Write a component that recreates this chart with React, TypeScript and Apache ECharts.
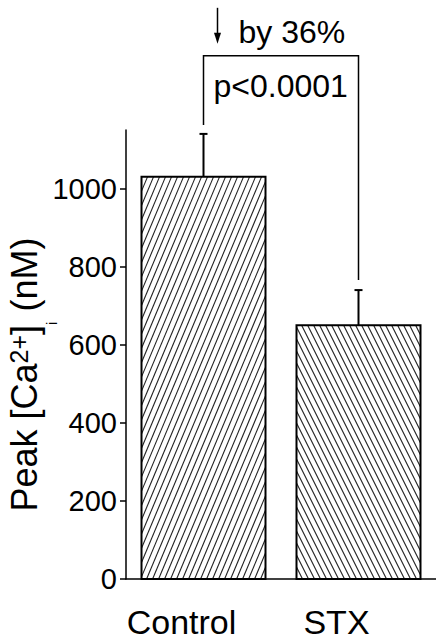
import React, { useEffect, useRef } from "react";
import * as echarts from "echarts";

const categories = ["Control", "STX"];
const peakValues = [1030, 650];
const errorValues = [110, 90];
const yTickValues = [0, 200, 400, 600, 800, 1000];
const yMax = 1150;
const bracketLevel = 1340;
const reductionLabel = "by 36%";
const pValueLabel = "p<0.0001";

const FONT = "'Liberation Sans', Arial, Helvetica, sans-serif";

export default function App() {
  const ref = useRef<HTMLDivElement>(null);

  useEffect(() => {
    if (!ref.current) return;
    const chart = echarts.init(ref.current, undefined, { renderer: "svg" });
    const seriesData = categories.map((c, i) => [i, peakValues[i], errorValues[i]]);

    const renderItem = (params: any, api: any) => {
      const idx = api.value(0);
      const val = api.value(1);
      const err = api.value(2);
      const [cx, yTop] = api.coord([idx, val]);
      const [, y0] = api.coord([idx, 0]);
      const [, yErr] = api.coord([idx, val + err]);
      const w = api.size([1, 0])[0] * 0.8;
      const x1 = cx - w / 2;
      const x2 = cx + w / 2;
      const h = y0 - yTop;
      const t = idx === 0 ? 0.42 : -0.5; // dx per unit up
      const step = 6;
      const lines: any[] = [];
      const cMin = Math.min(x1, x1 - t * h) - step;
      const cMax = Math.max(x2, x2 - t * h) + step;
      for (let c = cMin; c <= cMax; c += step) {
        let uA = 0, uB = h;
        let ua = (x1 - c) / t, ub = (x2 - c) / t;
        if (ua > ub) { const tmp = ua; ua = ub; ub = tmp; }
        uA = Math.max(uA, ua);
        uB = Math.min(uB, ub);
        if (uB - uA <= 0.5) continue;
        lines.push({
          type: "line",
          shape: { x1: c + t * uA, y1: y0 - uA, x2: c + t * uB, y2: y0 - uB },
          style: { stroke: "#222", lineWidth: 1.1 },
        });
      }
      return {
        type: "group",
        children: [
          { type: "rect", shape: { x: x1, y: yTop, width: w, height: h }, style: { fill: "#fff", stroke: "none" } },
          ...lines,
          { type: "rect", shape: { x: x1, y: yTop, width: w, height: h }, style: { fill: "none", stroke: "#000", lineWidth: 2 } },
          { type: "line", shape: { x1: cx, y1: yTop, x2: cx, y2: yErr }, style: { stroke: "#000", lineWidth: 2 } },
          { type: "line", shape: { x1: cx - 4, y1: yErr, x2: cx + 4, y2: yErr }, style: { stroke: "#000", lineWidth: 2 } },
        ],
      };
    };

    chart.setOption({
      animation: false,
      backgroundColor: "#fff",
      grid: { left: 126, right: 0, top: 130, bottom: 64, containLabel: false, outerBoundsMode: "none" },
      xAxis: {
        type: "category",
        data: categories,
        axisLine: { show: true, lineStyle: { color: "#000", width: 1.5 } },
        axisTick: { show: false },
        axisLabel: {
          color: "#000",
          fontSize: 34,
          fontFamily: FONT,
          margin: 26,
          padding: [0, 44, 0, 0],
        },
      },
      yAxis: {
        type: "value",
        min: 0,
        max: yMax,
        interval: 50,
        splitLine: { show: false },
        axisLine: { show: true, lineStyle: { color: "#000", width: 1.5 } },
        axisTick: { show: true, length: 6, customValues: yTickValues, lineStyle: { color: "#000", width: 1.5 } },
        axisLabel: {
          color: "#000",
          fontSize: 29,
          fontFamily: FONT,
          margin: 9,
          customValues: yTickValues,
          formatter: (v: number) => String(v),
        },
        name: "{a|Peak [Ca}{sup|2+}{a|]}{sub|i}{a| (nM)}",
        nameLocation: "middle",
        nameRotate: 90,
        nameGap: 67,
        nameMoveOverlap: false,
        nameTextStyle: {
          color: "#000",
          fontFamily: FONT,
          fontSize: 36,
          padding: [0, 40, 0, 0],
          rich: {
            a: { fontSize: 36, fontFamily: FONT, color: "#000", verticalAlign: "top" },
            sup: { fontSize: 25, fontFamily: FONT, color: "#000", verticalAlign: "top" },
            sub: { fontSize: 15, fontFamily: FONT, color: "#000", verticalAlign: "bottom", lineHeight: 53 },
          },
        },
      },
      series: [
        {
          type: "custom",
          renderItem,
          encode: { x: 0, y: 1 },
          data: seriesData,
        },
      ],
    });

    const lx = chart.convertToPixel({ xAxisIndex: 0, yAxisIndex: 0 }, [0, bracketLevel]) as number[];
    const rx = chart.convertToPixel({ xAxisIndex: 0, yAxisIndex: 0 }, [1, bracketLevel]) as number[];
    const capL = chart.convertToPixel({ xAxisIndex: 0, yAxisIndex: 0 }, [0, peakValues[0] + errorValues[0]]) as number[];
    const capR = chart.convertToPixel({ xAxisIndex: 0, yAxisIndex: 0 }, [1, peakValues[1] + errorValues[1]]) as number[];
    const by = lx[1];
    const ax = lx[0] + 14;
    const tipY = by - 12;

    chart.setOption({
      graphic: [
        {
          type: "polyline",
          shape: { points: [[lx[0], capL[1] - 9], [lx[0], by], [rx[0], by], [rx[0], capR[1] - 10]] },
          style: { stroke: "#000", lineWidth: 1.5, fill: "none" },
        },
        {
          type: "line",
          shape: { x1: ax, y1: by - 48, x2: ax, y2: tipY - 8 },
          style: { stroke: "#000", lineWidth: 1.5 },
        },
        {
          type: "polygon",
          shape: { points: [[ax - 3.5, tipY - 11], [ax + 3.5, tipY - 11], [ax, tipY]] },
          style: { fill: "#000" },
        },
        {
          type: "text",
          x: lx[0] + 35,
          y: by - 24,
          style: { text: reductionLabel, fontSize: 32, fontFamily: FONT, fill: "#000", align: "left", verticalAlign: "middle" },
        },
        {
          type: "text",
          x: lx[0] + 10,
          y: by + 30,
          style: { text: pValueLabel, fontSize: 32, fontFamily: FONT, fill: "#000", align: "left", verticalAlign: "middle" },
        },
      ],
    });

    return () => chart.dispose();
  }, []);

  return (
    <div
      ref={ref}
      style={{ position: "fixed", left: 0, top: 0, width: 436, height: 643, background: "#fff" }}
    />
  );
}
